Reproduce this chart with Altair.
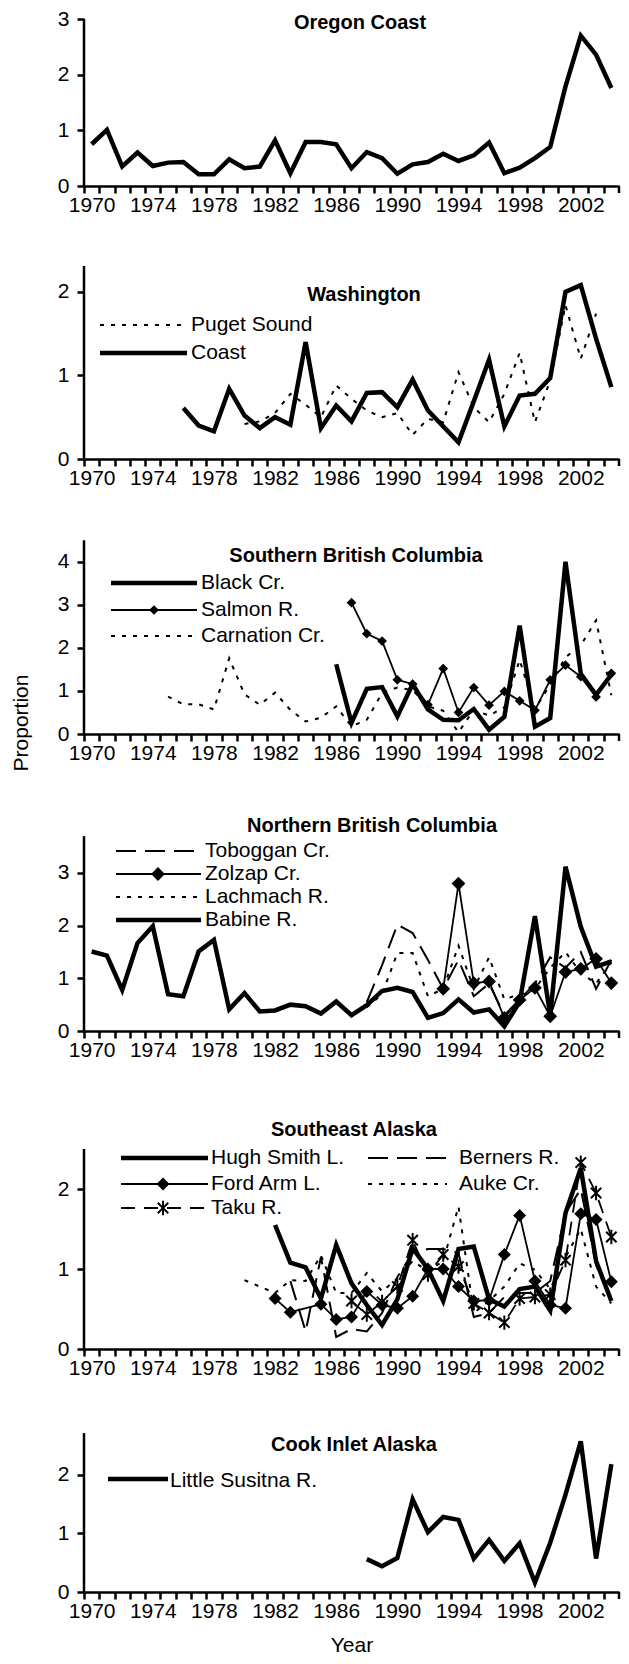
import altair as alt
import pandas as pd

FONT = "Liberation Sans"
PLOT_W = 535
X_DOMAIN = [1969.5, 2004.5]
X_TICKS = [1969.5 + k for k in range(35)]   # last boundary tick (2004.5) drawn separately
HALF = PLOT_W / 35 / 2
STAR = "M-0.8,-0.8L0.8,0.8M-0.8,0.8L0.8,-0.8M0,-1.1L0,1.1"

# ---------------- data ----------------
oregon_years = list(range(1970, 2005))
oregon_coast = [0.75, 1.01, 0.35, 0.60, 0.36, 0.42, 0.43, 0.21, 0.21, 0.48,
                0.32, 0.35, 0.82, 0.23, 0.79, 0.79, 0.75, 0.32, 0.61, 0.50,
                0.22, 0.39, 0.43, 0.58, 0.45, 0.55, 0.78, 0.23, 0.33, 0.50,
                0.70, 1.79, 2.70, 2.36, 1.76]

wa_coast_years = list(range(1976, 2005))
wa_coast = [0.61, 0.40, 0.33, 0.84, 0.52, 0.37, 0.50, 0.41, 1.40, 0.37,
            0.64, 0.45, 0.79, 0.80, 0.62, 0.95, 0.58, 0.39, 0.20, 0.69,
            1.19, 0.39, 0.76, 0.78, 0.97, 2.00, 2.08, 1.44, 0.86]
wa_puget_years = list(range(1980, 2004))
wa_puget = [0.42, 0.45, 0.55, 0.78, 0.65, 0.50, 0.88, 0.72, 0.58, 0.50,
            0.55, 0.29, 0.48, 0.44, 1.04, 0.62, 0.44, 0.78, 1.27, 0.44,
            0.94, 1.84, 1.20, 1.74]

sbc_black_years = list(range(1986, 2005))
sbc_black = [1.62, 0.26, 1.05, 1.09, 0.41, 1.16, 0.57, 0.33, 0.32, 0.58,
             0.10, 0.40, 2.52, 0.17, 0.37, 4.00, 1.40, 0.91, 1.38]
sbc_salmon_years = list(range(1987, 2005))
sbc_salmon = [3.05, 2.33, 2.16, 1.26, 1.16, 0.68, 1.52, 0.50, 1.08, 0.67,
              0.99, 0.77, 0.55, 1.26, 1.60, 1.33, 0.86, 1.41]
sbc_carnation_years = list(range(1975, 2005))
sbc_carnation = [0.87, 0.69, 0.69, 0.57, 1.76, 0.92, 0.68, 0.96, 0.56, 0.29,
                 0.38, 0.64, 0.18, 0.33, 0.95, 1.08, 1.02, 0.64, 0.54, 0.04,
                 0.56, 0.43, 0.62, 1.72, 0.58, 1.15, 1.78, 2.06, 2.64, 0.90]

nbc_babine_years = list(range(1970, 2005))
nbc_babine = [1.51, 1.43, 0.78, 1.67, 1.99, 0.70, 0.66, 1.51, 1.73, 0.41,
              0.72, 0.37, 0.39, 0.50, 0.47, 0.33, 0.56, 0.30, 0.49, 0.76,
              0.82, 0.74, 0.25, 0.34, 0.60, 0.35, 0.41, 0.09, 0.55, 2.18,
              0.30, 3.12, 1.98, 1.22, 1.32]
nbc_zolzap_years = list(range(1993, 2005))
nbc_zolzap = [0.80, 2.80, 0.91, 0.94, 0.25, 0.59, 0.82, 0.28, 1.12, 1.18, 1.37, 0.91]
nbc_toboggan_years = list(range(1988, 2005))
nbc_toboggan = [0.55, 1.25, 2.02, 1.86, 1.35, 0.80, 1.35, 0.66, 0.90, 0.30,
                0.60, 0.90, 1.40, 1.20, 1.50, 0.80, 1.35]
nbc_lachmach_years = list(range(1988, 2005))
nbc_lachmach = [0.45, 0.70, 1.48, 1.48, 0.66, 0.80, 1.62, 0.80, 1.40, 0.60,
                0.70, 0.80, 1.20, 1.50, 1.10, 0.90, 1.30]

sea_hugh_years = list(range(1982, 2005))
sea_hugh = [1.55, 1.08, 1.02, 0.63, 1.30, 0.82, 0.55, 0.30, 0.62, 1.26,
            1.00, 0.60, 1.25, 1.28, 0.62, 0.53, 0.75, 0.78, 0.48, 1.70,
            2.26, 1.10, 0.60]
sea_ford_years = [1982, 1983] + list(range(1985, 2005))
sea_ford = [0.63, 0.46, 0.56, 0.37, 0.40, 0.72, 0.55, 0.51, 0.66, 1.00,
            1.00, 0.78, 0.60, 0.61, 1.18, 1.67, 0.85, 0.55, 0.51, 1.69,
            1.62, 0.84]
sea_taku_years = list(range(1987, 2005))
sea_taku = [0.60, 0.43, 0.59, 0.78, 1.36, 0.93, 1.18, 1.03, 0.57, 0.45,
            0.33, 0.63, 0.65, 0.68, 1.11, 2.33, 1.95, 1.40]
sea_berners_years = list(range(1983, 2005))
sea_berners = [0.85, 0.22, 1.15, 0.15, 0.25, 0.22, 0.45, 0.90, 1.20, 1.25,
               1.25, 1.20, 0.40, 0.45, 0.65, 0.70, 0.70, 0.85, 1.70, 2.00,
               1.05, 0.60]
sea_auke_years = list(range(1980, 2005))
sea_auke = [0.86, 0.78, 0.70, 0.86, 0.85, 1.17, 0.70, 0.70, 0.95, 0.72,
            0.88, 1.10, 0.97, 1.10, 1.78, 0.45, 0.60, 0.78, 1.07, 0.99,
            0.75, 1.15, 1.50, 0.78, 0.57]

cook_years = list(range(1988, 2005))
cook_susitna = [0.56, 0.44, 0.58, 1.58, 1.02, 1.28, 1.23, 0.57, 0.89, 0.53,
                0.83, 0.16, 0.84, 1.66, 2.57, 0.57, 2.18]

dummy = pd.DataFrame({"d": [0]})

THICK = 4.5
THIN = 1.8
DOT = [4, 7]
LDASH = [20, 9]
TDASH = [14, 9]


def x_enc(title=None):
    return alt.X(
        "year:Q",
        scale=alt.Scale(domain=X_DOMAIN, nice=False, zero=False),
        axis=alt.Axis(
            values=X_TICKS,
            labelExpr="(datum.value + 0.5) % 4 == 2 ? format(datum.value + 0.5, 'd') : ''",
            labelOffset=HALF, labelFont=FONT, labelFontSize=21, labelColor="black",
            labelPadding=1, labelOverlap=False, labelFlush=False, labelBound=False,
            tickSize=7, tickWidth=2.5, tickColor="black",
            domainColor="black", domainWidth=2.5, grid=False,
            title=title, titleFont=FONT, titleFontSize=21, titleFontWeight="normal",
            titleColor="black", titlePadding=13,
        ),
    )


def y_enc(top, vals):
    return alt.Y(
        "value:Q",
        scale=alt.Scale(domain=[0, top], nice=False, zero=True),
        axis=alt.Axis(
            values=vals, domain=False, grid=False, tickSize=7, tickWidth=2.5,
            tickColor="black", labelFont=FONT, labelFontSize=21, labelColor="black",
            labelPadding=8, title=None,
        ),
    )


def line(years, vals, xe, ye, width, dash=None):
    kw = dict(color="black", strokeWidth=width, strokeJoin="miter")
    if dash:
        kw["strokeDash"] = dash
    df = pd.DataFrame({"year": years, "value": vals})
    return alt.Chart(df).mark_line(**kw).encode(x=xe, y=ye)


def points(years, vals, xe, ye, shape, size, filled=True):
    df = pd.DataFrame({"year": years, "value": vals})
    return alt.Chart(df).mark_point(shape=shape, size=size, filled=filled, color="black",
                                    opacity=1, strokeWidth=2).encode(x=xe, y=ye)


def frame(axis_top, height, xe, ye):
    """y-axis line up to axis_top and the closing tick at the right end of the x axis"""
    df = pd.DataFrame({"year": [X_DOMAIN[0], X_DOMAIN[0]], "value": [0, axis_top]})
    yline = alt.Chart(df).mark_line(color="black", strokeWidth=2.5).encode(x=xe, y=ye)
    end = pd.DataFrame({"year": [X_DOMAIN[1]]})
    etick = alt.Chart(end).mark_rule(color="black", strokeWidth=2.5).encode(
        x=xe, y=alt.value(height), y2=alt.value(height + 7))
    return [yline, etick]


def text(x, y, s, size=21, bold=False, align="left", angle=0):
    kw = dict(font=FONT, fontSize=size, color="black", align=align, baseline="middle")
    if bold:
        kw["fontWeight"] = "bold"
    if angle:
        kw["angle"] = angle
    return alt.Chart(dummy).mark_text(**kw).encode(x=alt.value(x), y=alt.value(y), text=alt.value(s))


def leg_line(x1, x2, y, width, dash=None):
    kw = dict(color="black", strokeWidth=width)
    if dash:
        kw["strokeDash"] = dash
    return alt.Chart(dummy).mark_rule(**kw).encode(x=alt.value(x1), x2=alt.value(x2), y=alt.value(y))


def leg_point(x, y, shape, size, filled=True):
    return alt.Chart(dummy).mark_point(shape=shape, size=size, filled=filled, color="black",
                                       opacity=1, strokeWidth=2).encode(x=alt.value(x), y=alt.value(y))


# ---------------- panels ----------------
# 1 Oregon Coast
H1 = 167
xe = x_enc(); ye = y_enc(3, [0, 1, 2, 3])
p1 = alt.layer(
    *frame(3, H1, xe, ye),
    line(oregon_years, oregon_coast, xe, ye, THICK),
    text(276, 4, "Oregon Coast", size=20, bold=True, align="center"),
).properties(width=PLOT_W, height=H1)

# 2 Washington
H2 = 193
xe = x_enc(); ye = y_enc(2.31, [0, 1, 2])
p2 = alt.layer(
    *frame(2.31, H2, xe, ye),
    line(wa_puget_years, wa_puget, xe, ye, 2, DOT),
    line(wa_coast_years, wa_coast, xe, ye, THICK),
    text(280, 29, "Washington", size=20, bold=True, align="center"),
    leg_line(16, 103, 59, 2, DOT), text(107, 59, "Puget Sound"),
    leg_line(16, 103, 87, THICK), text(107, 87, "Coast"),
).properties(width=PLOT_W, height=H2)

# 3 Southern British Columbia
H3 = 195
xe = x_enc(); ye = y_enc(4.53, [0, 1, 2, 3, 4])
p3 = alt.layer(
    *frame(4.5, H3, xe, ye),
    line(sbc_carnation_years, sbc_carnation, xe, ye, 2, DOT),
    line(sbc_salmon_years, sbc_salmon, xe, ye, THIN),
    points(sbc_salmon_years, sbc_salmon, xe, ye, "diamond", 95),
    line(sbc_black_years, sbc_black, xe, ye, THICK),
    text(272, 17, "Southern British Columbia", size=20, bold=True, align="center"),
    leg_line(27, 113, 44, THICK), text(117, 44, "Black Cr."),
    leg_line(27, 113, 71, THIN), leg_point(70, 71, "diamond", 95), text(117, 71, "Salmon R."),
    leg_line(27, 113, 97, 2, DOT), text(117, 97, "Carnation Cr."),
    text(-62, 184, "Proportion", align="center", angle=270),
).properties(width=PLOT_W, height=H3)

# 4 Northern British Columbia
H4 = 217
xe = x_enc(); ye = y_enc(4.12, [0, 1, 2, 3])
p4 = alt.layer(
    *frame(3.7, H4, xe, ye),
    line(nbc_toboggan_years, nbc_toboggan, xe, ye, 2, LDASH),
    line(nbc_lachmach_years, nbc_lachmach, xe, ye, 2, DOT),
    line(nbc_zolzap_years, nbc_zolzap, xe, ye, THIN),
    points(nbc_zolzap_years, nbc_zolzap, xe, ye, "diamond", 190),
    line(nbc_babine_years, nbc_babine, xe, ye, THICK),
    text(288, 12, "Northern British Columbia", size=20, bold=True, align="center"),
    leg_line(32, 117, 37, 2, LDASH), text(121, 37, "Toboggan Cr."),
    leg_line(32, 117, 60, THIN), leg_point(74, 60, "diamond", 190), text(121, 60, "Zolzap Cr."),
    leg_line(32, 117, 83, 2, DOT), text(121, 83, "Lachmach R."),
    leg_line(32, 117, 106, THICK), text(121, 106, "Babine R."),
).properties(width=PLOT_W, height=H4)

# 5 Southeast Alaska
H5 = 238
xe = x_enc(); ye = y_enc(2.975, [0, 1, 2])
p5 = alt.layer(
    *frame(2.5, H5, xe, ye),
    line(sea_auke_years, sea_auke, xe, ye, 2, DOT),
    line(sea_berners_years, sea_berners, xe, ye, 2, LDASH),
    line(sea_taku_years, sea_taku, xe, ye, THIN, TDASH),
    points(sea_taku_years, sea_taku, xe, ye, STAR, 170, filled=False),
    line(sea_ford_years, sea_ford, xe, ye, THIN),
    points(sea_ford_years, sea_ford, xe, ye, "diamond", 170),
    line(sea_hugh_years, sea_hugh, xe, ye, THICK),
    text(270, 19, "Southeast Alaska", size=20, bold=True, align="center"),
    leg_line(37, 124, 47, THICK), text(127, 47, "Hugh Smith L."),
    leg_line(37, 124, 73, THIN), leg_point(79, 73, "diamond", 170), text(127, 73, "Ford Arm L."),
    leg_line(37, 124, 97, THIN, TDASH), leg_point(79, 97, STAR, 170, filled=False), text(127, 97, "Taku R."),
    leg_line(284, 363, 47, 2, LDASH), text(375, 47, "Berners R."),
    leg_line(284, 363, 73, 2, DOT), text(375, 73, "Auke Cr."),
).properties(width=PLOT_W, height=H5)

# 6 Cook Inlet Alaska
H6 = 163
xe = x_enc("Year"); ye = y_enc(2.78, [0, 1, 2])
p6 = alt.layer(
    *frame(2.71, H6, xe, ye),
    line(cook_years, cook_susitna, xe, ye, THICK),
    text(270, 16, "Cook Inlet Alaska", size=20, bold=True, align="center"),
    leg_line(24, 84, 50, THICK), text(86, 52, "Little Susitna R."),
).properties(width=PLOT_W, height=H6)

chart = alt.vconcat(p1, p2, p3, p4, p5, p6, spacing=80, bounds="flush").properties(
    padding={"left": 3, "top": 0, "right": 0, "bottom": 0}
).configure_view(stroke=None)

chart.save("out.html", embed_options={"renderer": "svg", "actions": False})
